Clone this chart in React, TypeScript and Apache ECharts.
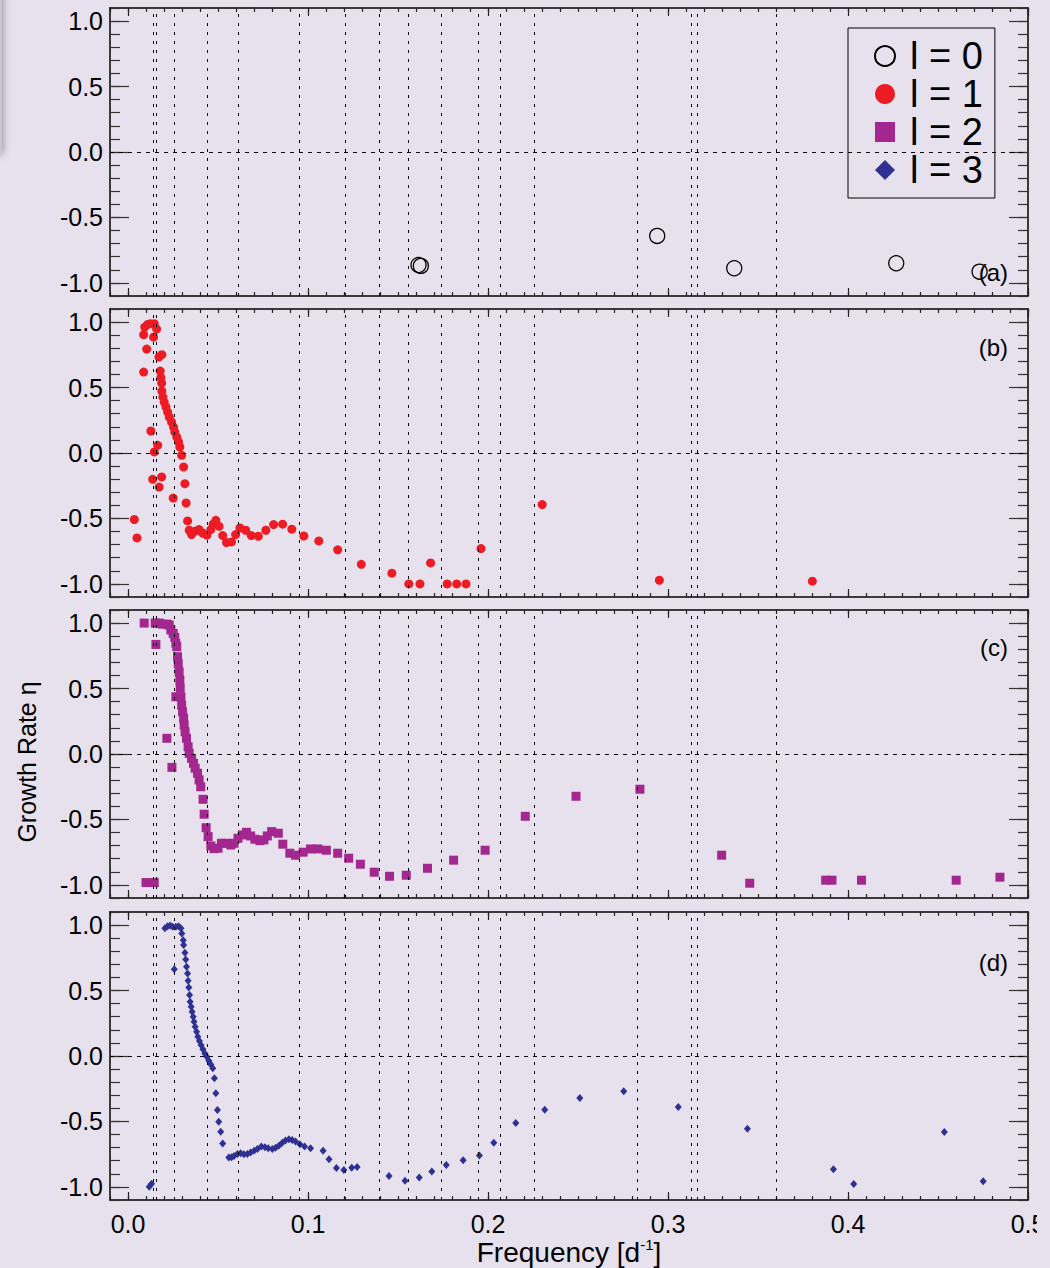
import React, { useEffect, useRef } from "react";
import * as echarts from "echarts";

const FONT = '"Liberation Sans", Arial, Helvetica, sans-serif';
const BG = "#e6e1ec";

// Frequencies [d^-1] of the dotted reference lines repeated in every panel
const refFreqs = [
  0.0142, 0.0159, 0.0259, 0.0442, 0.0615, 0.0949, 0.1208, 0.1398, 0.1558,
  0.1738, 0.1948, 0.2066, 0.2255, 0.2829, 0.313, 0.3163, 0.3599,
];

// Tick labels
const xMajor = [0, 0.1, 0.2, 0.3, 0.4, 0.5];
const yMajor = [-1, -0.5, 0, 0.5, 1];
const xMinor = Array.from({ length: 52 }, (_, k) => (k - 1) / 100);
const yMinor = Array.from({ length: 23 }, (_, k) => (k - 11) / 10);

// Growth rate eta versus frequency, one array per degree l
const l0: [number, number][] = [
  [0.1614, -0.863], [0.1627, -0.87], [0.294, -0.641], [0.3368, -0.888],
  [0.4268, -0.85], [0.4731, -0.914],
];

const l1: [number, number][] = [
  [0.0035, -0.508], [0.005, -0.649], [0.0087, 0.618], [0.0104, 0.794],
  [0.0087, 0.904], [0.0093, 0.962], [0.0109, 0.982], [0.0124, 0.988],
  [0.0146, 0.988], [0.0159, 0.947], [0.0142, 0.885], [0.0127, 0.168],
  [0.0146, 0.008], [0.0165, 0.059], [0.0137, -0.201], [0.0187, -0.183],
  [0.0173, -0.26], [0.0172, 0.733], [0.0188, 0.751], [0.0179, 0.626],
  [0.0183, 0.576], [0.0187, 0.534], [0.0188, 0.473], [0.0194, 0.427],
  [0.0201, 0.389], [0.0211, 0.351], [0.022, 0.313], [0.0229, 0.275],
  [0.0242, 0.237], [0.0253, 0.198], [0.026, 0.16], [0.0271, 0.122],
  [0.0281, 0.084], [0.0288, 0.046], [0.0298, -0.018], [0.0309, -0.107],
  [0.0316, -0.234], [0.0251, -0.344], [0.0323, -0.382], [0.0331, -0.519],
  [0.034, -0.59], [0.0353, -0.623], [0.0377, -0.595], [0.0395, -0.585],
  [0.0414, -0.611], [0.0438, -0.628], [0.046, -0.585], [0.0473, -0.544],
  [0.0488, -0.514], [0.0506, -0.56], [0.0526, -0.631], [0.0547, -0.684],
  [0.0575, -0.679], [0.0598, -0.623], [0.0622, -0.573], [0.0654, -0.59],
  [0.0685, -0.631], [0.0724, -0.636], [0.0766, -0.59], [0.0809, -0.547],
  [0.0859, -0.544], [0.091, -0.582], [0.0977, -0.634], [0.106, -0.672],
  [0.1165, -0.74], [0.1296, -0.85], [0.1466, -0.918], [0.156, -1.0],
  [0.1622, -1.0], [0.1681, -0.84], [0.1773, -1.0], [0.1826, -1.0],
  [0.1878, -1.0], [0.1961, -0.73], [0.2301, -0.394], [0.2952, -0.972],
  [0.3802, -0.979],
];

const l2: [number, number][] = [
  [0.009, 1.0], [0.01, -0.982], [0.0146, -0.982], [0.0155, 0.837],
  [0.0151, 1.0], [0.0173, 1.0], [0.0192, 0.992], [0.0216, 0.992],
  [0.0229, 0.985], [0.0238, 0.947], [0.0251, 0.921], [0.026, 0.891],
  [0.0266, 0.845], [0.0271, 0.819], [0.0275, 0.743], [0.0279, 0.692],
  [0.0284, 0.628], [0.0288, 0.565], [0.029, 0.502], [0.0266, 0.437],
  [0.0294, 0.437], [0.0298, 0.374], [0.0303, 0.323], [0.0309, 0.273],
  [0.0312, 0.221], [0.0317, 0.17], [0.0325, 0.12], [0.0334, 0.056],
  [0.034, 0.005], [0.0353, -0.033], [0.0364, -0.071], [0.0373, -0.109],
  [0.0386, -0.147], [0.0395, -0.198], [0.0404, -0.25], [0.0417, -0.346],
  [0.0423, -0.46], [0.0434, -0.563], [0.0445, -0.631], [0.046, -0.702],
  [0.0478, -0.723], [0.05, -0.72], [0.0519, -0.682], [0.0543, -0.682],
  [0.0571, -0.695], [0.0589, -0.682], [0.0611, -0.644], [0.0635, -0.618],
  [0.0658, -0.598], [0.0681, -0.626], [0.0705, -0.651], [0.0733, -0.662],
  [0.0755, -0.656], [0.0774, -0.626], [0.0798, -0.593], [0.0835, -0.605],
  [0.086, -0.689], [0.0899, -0.758], [0.0931, -0.773], [0.0973, -0.75],
  [0.1014, -0.725], [0.1054, -0.725], [0.1102, -0.735], [0.1165, -0.758],
  [0.1226, -0.796], [0.1291, -0.842], [0.1368, -0.903], [0.1453, -0.934],
  [0.1546, -0.926], [0.1664, -0.873], [0.1809, -0.811], [0.1984, -0.735],
  [0.2207, -0.476], [0.2489, -0.323], [0.2844, -0.269], [0.3298, -0.773],
  [0.3454, -0.987], [0.3876, -0.964], [0.3911, -0.964], [0.4075, -0.964],
  [0.4601, -0.964], [0.4844, -0.941], [0.0216, 0.12], [0.0244, -0.102],
];

const l3: [number, number][] = [
  [0.0118, -0.998], [0.0131, -0.975], [0.0205, 0.975], [0.022, 0.992],
  [0.0234, 0.997], [0.0248, 0.987], [0.0266, 0.987], [0.0281, 0.992],
  [0.0294, 0.975], [0.0299, 0.936], [0.0307, 0.885], [0.0309, 0.847],
  [0.0316, 0.789], [0.0321, 0.738], [0.0325, 0.682], [0.0331, 0.631],
  [0.0334, 0.575], [0.0338, 0.524], [0.0342, 0.466], [0.0345, 0.415],
  [0.0351, 0.376], [0.0356, 0.338], [0.0362, 0.3], [0.0367, 0.262],
  [0.0373, 0.224], [0.0381, 0.185], [0.0388, 0.147], [0.0397, 0.115],
  [0.0406, 0.084], [0.0416, 0.051], [0.0427, 0.02], [0.0438, -0.005],
  [0.0449, -0.036], [0.046, -0.064], [0.0471, -0.094], [0.048, -0.17],
  [0.0488, -0.285], [0.0497, -0.412], [0.0504, -0.502], [0.0515, -0.578],
  [0.0526, -0.669], [0.056, -0.776], [0.0575, -0.773], [0.0589, -0.763],
  [0.0608, -0.748], [0.0626, -0.743], [0.0644, -0.75], [0.0663, -0.748],
  [0.0681, -0.738], [0.07, -0.723], [0.0719, -0.71], [0.0741, -0.692],
  [0.0761, -0.697], [0.0779, -0.705], [0.0802, -0.71], [0.082, -0.7],
  [0.0838, -0.685], [0.0857, -0.662], [0.0875, -0.646], [0.0894, -0.636],
  [0.0912, -0.641], [0.0931, -0.654], [0.0955, -0.674], [0.0981, -0.692],
  [0.1014, -0.705], [0.1084, -0.723], [0.1117, -0.789], [0.1158, -0.855],
  [0.1199, -0.87], [0.1243, -0.853], [0.1273, -0.847], [0.145, -0.916],
  [0.1539, -0.952], [0.1618, -0.929], [0.1688, -0.883], [0.1768, -0.832],
  [0.1862, -0.796], [0.1952, -0.761], [0.2032, -0.662], [0.2154, -0.511],
  [0.2315, -0.41], [0.251, -0.321], [0.2754, -0.27], [0.3057, -0.389],
  [0.3441, -0.555], [0.3919, -0.865], [0.4032, -0.977], [0.4535, -0.58],
  [0.4751, -0.957], [0.0257, 0.662],
];

const panelTags = ["(a)", "(b)", "(c)", "(d)"];

const GRID_LEFT = 110;
const GRID_RIGHT = 1028;
const GRID_TOPS = [8, 309, 610, 912];
const GRID_H = 288;
const TAG_Y = [272, 347, 647, 962];

const panels = [
  { name: "l = 0", data: l0, symbol: "circle", size: 15, fill: "rgba(0,0,0,0)", border: "#000", bw: 1.3 },
  { name: "l = 1", data: l1, symbol: "circle", size: 9, fill: "#ed1c24", border: "#ed1c24", bw: 0 },
  { name: "l = 2", data: l2, symbol: "rect", size: 9, fill: "#a3278f", border: "#a3278f", bw: 0 },
  { name: "l = 3", data: l3, symbol: "diamond", size: [7, 8], fill: "#2e3192", border: "#2e3192", bw: 0 },
];

function buildOption() {
  const grid: any[] = [];
  const xAxis: any[] = [];
  const yAxis: any[] = [];
  const series: any[] = [];

  const tickStyle = { color: "#222", width: 1.2 };
  const frame = { show: true, onZero: false, lineStyle: { color: "#000", width: 1.5 } };
  const noLine = { show: false, onZero: false };

  panels.forEach((p, i) => {
    grid.push({
      left: GRID_LEFT,
      width: GRID_RIGHT - GRID_LEFT,
      top: GRID_TOPS[i],
      height: GRID_H,
      containLabel: false,
      outerBoundsMode: "none",
    });

    const xb = { type: "value", gridIndex: i, min: -0.01, max: 0.5, splitLine: { show: false } };
    const last = i === 3;
    xAxis.push({
      ...xb,
      position: "bottom",
      axisLine: frame,
      axisTick: { show: true, inside: true, length: 8, customValues: xMajor, lineStyle: tickStyle },
      axisLabel: {
        show: last,
        customValues: xMajor,
        formatter: (v: number) => v.toFixed(1),
        fontSize: 25,
        fontFamily: FONT,
        color: "#000",
        margin: 11,
      },
      name: last ? "{a|Frequency [d}{s|-1}{a|]}" : "",
      nameLocation: "middle",
      nameGap: 37,
      nameTextStyle: {
        rich: {
          a: { fontSize: 28, fontFamily: FONT, color: "#000", lineHeight: 30 },
          s: { fontSize: 15, fontFamily: FONT, color: "#000", verticalAlign: "top", lineHeight: 30 },
        },
      },
    });
    xAxis.push({
      ...xb,
      position: "bottom",
      axisLine: noLine,
      axisTick: { show: true, inside: true, length: 4, customValues: xMinor, lineStyle: tickStyle },
      axisLabel: { show: false },
    });
    xAxis.push({
      ...xb,
      position: "top",
      axisLine: frame,
      axisTick: { show: true, inside: true, length: 8, customValues: xMajor, lineStyle: tickStyle },
      axisLabel: { show: false },
    });
    xAxis.push({
      ...xb,
      position: "top",
      axisLine: noLine,
      axisTick: { show: true, inside: true, length: 4, customValues: xMinor, lineStyle: tickStyle },
      axisLabel: { show: false },
    });

    const yb = { type: "value", gridIndex: i, min: -1.1, max: 1.1, splitLine: { show: false } };
    const yTick = { color: "#333", width: 1.2 };
    yAxis.push({
      ...yb,
      position: "left",
      axisLine: frame,
      axisTick: { show: true, inside: true, length: 19, customValues: yMajor, lineStyle: yTick },
      axisLabel: {
        show: true,
        customValues: yMajor,
        formatter: (v: number) => v.toFixed(1),
        fontSize: 25,
        fontFamily: FONT,
        color: "#000",
        margin: 7,
      },
    });
    yAxis.push({
      ...yb,
      position: "left",
      axisLine: noLine,
      axisTick: { show: true, inside: true, length: 10, customValues: yMinor, lineStyle: yTick },
      axisLabel: { show: false },
    });
    yAxis.push({
      ...yb,
      position: "right",
      axisLine: frame,
      axisTick: { show: true, inside: true, length: 19, customValues: yMajor, lineStyle: yTick },
      axisLabel: { show: false },
    });
    yAxis.push({
      ...yb,
      position: "right",
      axisLine: noLine,
      axisTick: { show: true, inside: true, length: 10, customValues: yMinor, lineStyle: yTick },
      axisLabel: { show: false },
    });

    series.push({
      type: "scatter",
      name: p.name,
      xAxisIndex: 4 * i,
      yAxisIndex: 4 * i,
      data: p.data,
      symbol: p.symbol,
      symbolSize: p.size,
      itemStyle: { color: p.fill, borderColor: p.border, borderWidth: p.bw, opacity: 1 },
      emphasis: { disabled: true },
      silent: true,
      z: 3,
      markLine: {
        silent: true,
        precision: 4,
        symbol: ["none", "none"],
        label: { show: false },
        emphasis: { disabled: true },
        lineStyle: { color: "#000", width: 1, type: [3, 6], opacity: 1 },
        data: [
          ...refFreqs.map((f) => ({ xAxis: f })),
          { yAxis: 0, lineStyle: { color: "#000", width: 1, type: [4, 5], opacity: 1 } },
        ],
      },
    });
  });

  const graphic: any[] = [
    ...panelTags.map((t, i) => ({
      type: "text",
      x: 1008,
      y: TAG_Y[i],
      z: 10,
      style: {
        text: t,
        fill: "#000",
        fontSize: 24,
        fontFamily: FONT,
        align: "right",
        verticalAlign: "middle",
      },
    })),
    {
      type: "text",
      x: 27,
      y: 762,
      rotation: Math.PI / 2,
      style: {
        text: "Growth Rate η",
        fill: "#000",
        fontSize: 25,
        fontFamily: FONT,
        align: "center",
        verticalAlign: "middle",
      },
    },
    // page edge trimmed past the last tick label
    {
      type: "rect",
      z: 100,
      shape: { x: 1037, y: 1205, width: 13, height: 40 },
      style: { fill: BG },
    },
    // shaded sliver along the top-left edge
    {
      type: "rect",
      z: 100,
      shape: { x: -8, y: -8, width: 10, height: 162, r: 3 },
      style: { fill: "#c9c5ce", shadowBlur: 8, shadowColor: "rgba(0,0,0,0.45)" },
    },
  ];

  return {
    animation: false,
    backgroundColor: BG,
    grid,
    xAxis,
    yAxis,
    series,
    graphic,
    legend: {
      orient: "vertical",
      left: 848,
      top: 28,
      padding: [9, 12, 9, 26],
      itemGap: 0,
      itemWidth: 20,
      itemHeight: 20,
      borderColor: "#000",
      borderWidth: 1,
      selectedMode: false,
      data: panels.map((p) => p.name),
      textStyle: {
        fontSize: 38,
        lineHeight: 38,
        fontFamily: FONT,
        color: "#000",
        padding: [0, 0, 0, 10],
      },
    },
  };
}

export default function App() {
  const ref = useRef<HTMLDivElement>(null);
  useEffect(() => {
    const chart = echarts.init(ref.current!, null, { renderer: "svg" });
    chart.setOption(buildOption() as any);
    return () => chart.dispose();
  }, []);
  return (
    <div
      ref={ref}
      style={{ position: "fixed", left: 0, top: 0, width: 1050, height: 1268, background: BG }}
    />
  );
}
